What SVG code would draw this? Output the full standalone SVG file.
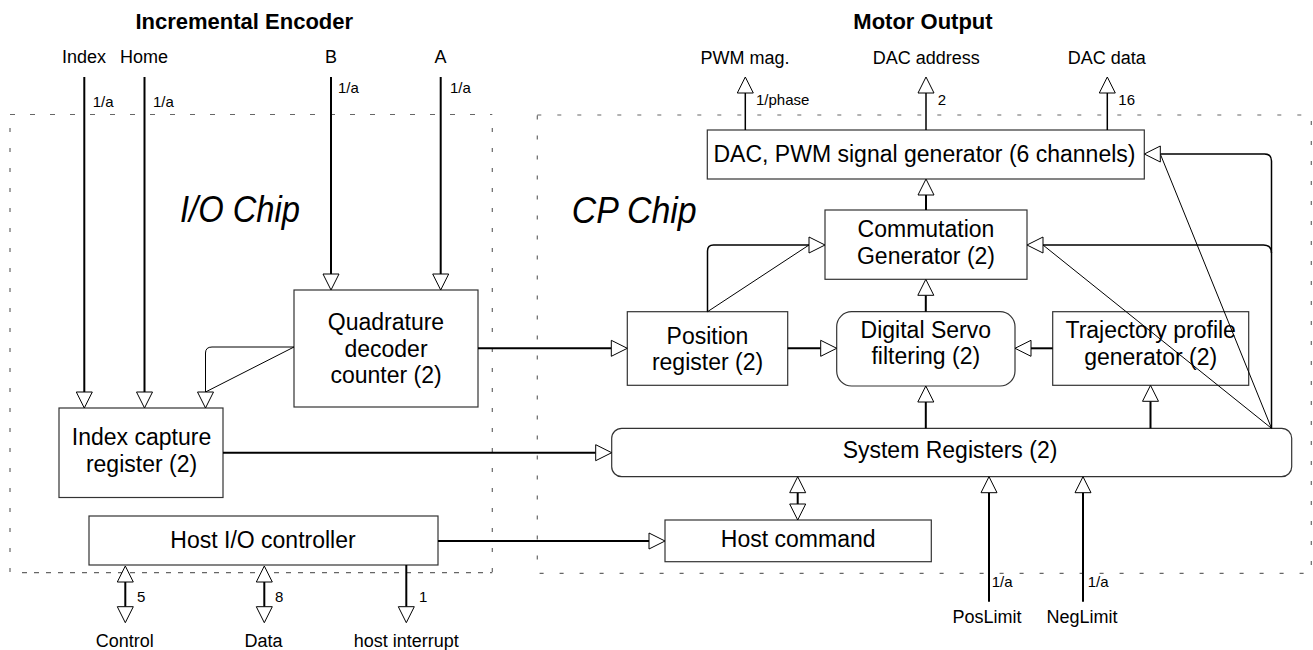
<svg xmlns="http://www.w3.org/2000/svg" width="1313" height="650" viewBox="0 0 1313 650">
<style>
text{font-family:"Liberation Sans",Arial,sans-serif;fill:#000}
.title{font-size:22px;font-weight:bold;text-anchor:middle}
.lbl{font-size:18px;text-anchor:middle}
.sm{font-size:15px}
.node{font-size:23px;text-anchor:middle}
.chip{font-size:36px;font-style:italic}
.box{fill:#fff;stroke:#333;stroke-width:1.2}
.dash{fill:none;stroke:#666;stroke-width:1.2}
.thick{fill:none;stroke:#000;stroke-width:2}
.mid{fill:none;stroke:#000;stroke-width:1.5}
.thin{fill:none;stroke:#000;stroke-width:1}
.a{marker-end:url(#tri)}
.aa{marker-start:url(#tri);marker-end:url(#tri)}
</style>
<defs>
<marker id="tri" viewBox="-1 -1 18 18" refX="0" refY="8" markerWidth="18" markerHeight="18" markerUnits="userSpaceOnUse" orient="auto-start-reverse" overflow="visible">
<path d="M0,0 L16,8 L0,16 Z" fill="#fff" stroke="#000" stroke-width="1"/>
</marker>
</defs>
<rect width="1313" height="650" fill="#fff"/>

<g id="chips">
<line class="dash" x1="10" y1="114.5" x2="492.3" y2="114.5" stroke-dasharray="5 15"/>
<line class="dash" x1="10" y1="128" x2="10" y2="572.7" stroke-dasharray="4 16"/>
<line class="dash" x1="492.3" y1="128" x2="492.3" y2="572.7" stroke-dasharray="4 16"/>
<line class="dash" x1="22" y1="572.7" x2="492.3" y2="572.7" stroke-dasharray="5 7"/>
<rect class="dash" x="537.3" y="115" width="774" height="458.3" stroke-dasharray="4 16"/>
<text class="chip" x="180" y="221.7" textLength="120" lengthAdjust="spacingAndGlyphs">I/O Chip</text>
<text class="chip" x="571.7" y="223.3" textLength="125" lengthAdjust="spacingAndGlyphs">CP Chip</text>
</g>

<g id="labels">
<text class="title" x="244.3" y="29.3">Incremental Encoder</text>
<text class="title" x="923" y="29.3">Motor Output</text>
<text class="lbl" x="84" y="62.7">Index</text>
<text class="lbl" x="144" y="62.7">Home</text>
<text class="lbl" x="331" y="62.7">B</text>
<text class="lbl" x="440.5" y="62.7">A</text>
<text class="sm" x="92.7" y="107">1/a</text>
<text class="sm" x="153" y="107">1/a</text>
<text class="sm" x="338" y="93">1/a</text>
<text class="sm" x="450" y="93">1/a</text>
<text class="lbl" x="745" y="64">PWM mag.</text>
<text class="lbl" x="926.3" y="64">DAC address</text>
<text class="lbl" x="1106.7" y="64">DAC data</text>
<text class="sm" x="756" y="105">1/phase</text>
<text class="sm" x="937.7" y="105">2</text>
<text class="sm" x="1118.3" y="105">16</text>
<text class="sm" x="137" y="602">5</text>
<text class="sm" x="275" y="602">8</text>
<text class="sm" x="419" y="602">1</text>
<text class="lbl" x="124.7" y="646.5">Control</text>
<text class="lbl" x="263.5" y="646.5">Data</text>
<text class="lbl" x="406.3" y="646.5">host interrupt</text>
<text class="sm" x="991.7" y="586.7">1/a</text>
<text class="sm" x="1087.7" y="586.7">1/a</text>
<text class="lbl" x="987" y="623.3">PosLimit</text>
<text class="lbl" x="1082" y="623.3">NegLimit</text>
</g>

<g id="quadrature">
<rect class="box" x="294" y="290" width="184" height="117"/>
<text class="node" x="386" y="330">Quadrature</text>
<text class="node" x="386" y="356.7">decoder</text>
<text class="node" x="386" y="383.3">counter (2)</text>
</g>
<g id="index-capture">
<rect class="box" x="59" y="408" width="164" height="89.5"/>
<text class="node" x="141.5" y="445">Index capture</text>
<text class="node" x="141.5" y="471.7">register (2)</text>
</g>
<g id="host-io">
<rect class="box" x="89" y="516" width="349" height="49"/>
<text class="node" x="263" y="547.7">Host I/O controller</text>
</g>
<g id="dac">
<rect class="box" x="707.3" y="130" width="437" height="49"/>
<text class="node" x="924.5" y="162.3" textLength="422" lengthAdjust="spacingAndGlyphs">DAC, PWM signal generator (6 channels)</text>
</g>
<g id="commutation">
<rect class="box" x="825" y="210" width="202" height="69.3"/>
<text class="node" x="926" y="237">Commutation</text>
<text class="node" x="926" y="264">Generator (2)</text>
</g>
<g id="position">
<rect class="box" x="627.3" y="311.7" width="160.4" height="73.6"/>
<text class="node" x="707.5" y="344">Position</text>
<text class="node" x="707.5" y="370">register (2)</text>
</g>
<g id="servo">
<rect class="box" x="836.7" y="311.7" width="178.3" height="74.3" rx="15"/>
<text class="node" x="925.8" y="338.3">Digital Servo</text>
<text class="node" x="925.8" y="364.3">filtering (2)</text>
</g>
<g id="trajectory">
<rect class="box" x="1052.7" y="311.7" width="196" height="73.6"/>
<text class="node" x="1150.7" y="338">Trajectory profile</text>
<text class="node" x="1150.7" y="365">generator (2)</text>
</g>
<g id="system">
<rect class="box" x="611.7" y="428.3" width="680" height="48.4" rx="10"/>
<text class="node" x="950" y="458.3">System Registers (2)</text>
</g>
<g id="host-command">
<rect class="box" x="665" y="520" width="266.3" height="41.7"/>
<text class="node" x="798.2" y="546.7">Host command</text>
</g>

<g id="connectors">
<path class="thick a" d="M84.3,77 V392"/>
<path class="thick a" d="M144.5,77 V392"/>
<path class="thick a" d="M331,77 V274"/>
<path class="thick a" d="M440.7,77 V274"/>
<path class="thin" d="M294,347 L205.5,392"/>
<path class="thin a" d="M294,347 H212 Q205.5,347 205.5,353 V392"/>
<path class="thick a" d="M478,348.3 H611.3"/>
<path class="thick a" d="M787.7,348.3 H820.7"/>
<path class="thick a" d="M1052.7,348.3 H1031"/>
<path class="thick a" d="M223,452.7 H595.7"/>
<path class="thick a" d="M438,541 H649"/>
<path class="thick a" d="M925.8,311.7 V295.3"/>
<path class="thick a" d="M926,210 V195"/>
<path class="thick a" d="M925.8,428.3 V402"/>
<path class="thick a" d="M1150.5,428.3 V401.3"/>
<path class="thick aa" d="M797.7,492.7 V504"/>
<path class="thick a" d="M989,601.7 V492.7"/>
<path class="thick a" d="M1083,601.7 V492.7"/>
<path class="thin" d="M707.5,311.7 L809,245"/>
<path class="mid a" d="M707.5,311.7 V251 Q707.5,245 713.5,245 H809"/>
<path class="thin" d="M1271.5,428.3 L1043,245"/>
<path class="thin" d="M1271.5,428.3 L1160.3,154"/>
<path class="mid a" d="M1271.5,428.3 V161 Q1271.5,154 1264.5,154 H1160.3"/>
<path class="mid a" d="M1271.5,253 Q1271.5,245 1263.5,245 H1043"/>
<path class="mid a" d="M745.3,130 V93"/>
<path class="mid a" d="M926,130 V93"/>
<path class="mid a" d="M1107.3,130 V93"/>
<path class="thick aa" d="M125.3,582 V606.7"/>
<path class="thick aa" d="M264.3,582 V606.7"/>
<path class="thick a" d="M406.3,565 V606.7"/>
</g>
</svg>
